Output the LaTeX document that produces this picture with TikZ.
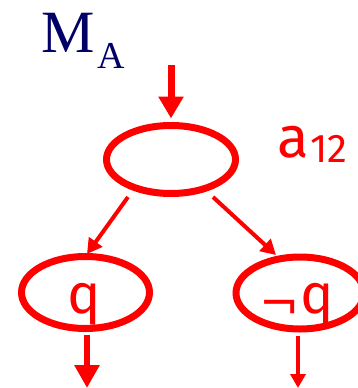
\documentclass[tikz,border=0pt]{standalone}
\usepackage{fontspec}
\setmainfont{Liberation Serif}
\newfontfamily\redfont{Fira Sans}
\newfontfamily\negfont{DejaVu Sans}
\usetikzlibrary{shapes.geometric,arrows.meta,calc}
\definecolor{navy}{rgb}{0,0,0.4}
\definecolor{myred}{rgb}{1,0,0}
\tikzset{
  oval/.style={ellipse, draw=myred, line width=7pt, inner sep=0pt},
  bigarrow/.style={draw=myred, line width=7pt, -{Triangle[length=22pt,width=24pt]}},
  thinarrow/.style={draw=myred, line width=4pt, -{Triangle[length=15pt,width=16pt]}},
  redtext/.style={text=myred, inner sep=0pt, font=\redfont}
}
\begin{document}
\begin{tikzpicture}[x=1pt,y=-1pt]
\useasboundingbox (0,0) rectangle (357,388);
% labels
\node[text=navy, inner sep=0pt, anchor=base west, font=\fontsize{60}{60}\selectfont] (M) at (41,52) {M};
\node[text=navy, inner sep=0pt, anchor=base west, font=\fontsize{38}{38}\selectfont] (Asub) at (97,68) {A};
\node[redtext, anchor=base west, font=\redfont\fontsize{58}{58}\selectfont] (a) at (277,157) {a};
\node[redtext, anchor=base west, font=\redfont\fontsize{40}{40}\selectfont] (n12) at (310,162) {12};
% ovals
\node[oval, minimum width=129pt, minimum height=68pt] (top) at (171,159.5) {};
\node[oval, minimum width=128pt, minimum height=72pt] (left) at (85.5,292.5) {};
\node[oval, minimum width=128pt, minimum height=72pt] (right) at (300,293) {};
% texts in ovals
\node[redtext, anchor=base, font=\redfont\fontsize{56}{56}\selectfont] (q1) at (84,313) {q};
\node[redtext, anchor=base west, font=\redfont\fontsize{56}{56}\selectfont] (q2) at (259,313) {\raisebox{-7pt}{\negfont\fontsize{48}{48}\selectfont ¬}\kern1pt q};
% coordinates
\coordinate (inA) at (171,65);
\coordinate (outL) at (87,388);
\coordinate (outR) at (298,388);
% connectors
\draw[bigarrow, shorten >=3.5pt] (inA) -- (top.north);
\draw[thinarrow] ($(top.center)+(-43,37.5)$) -- ($(left.center)+(1.5,-38.5)$);
\draw[thinarrow] ($(top.center)+(42,37.5)$) -- ($(right.center)+(-24,-38)$);
\draw[draw=myred, line width=6.5pt, -{Triangle[length=23pt,width=24pt]}] ($(left.south)+(1.5,3)$) -- (outL);
\draw[thinarrow, -{Triangle[length=14pt,width=15pt]}] ($(right.south)+(-2,3)$) -- (outR);
\end{tikzpicture}
\end{document}
